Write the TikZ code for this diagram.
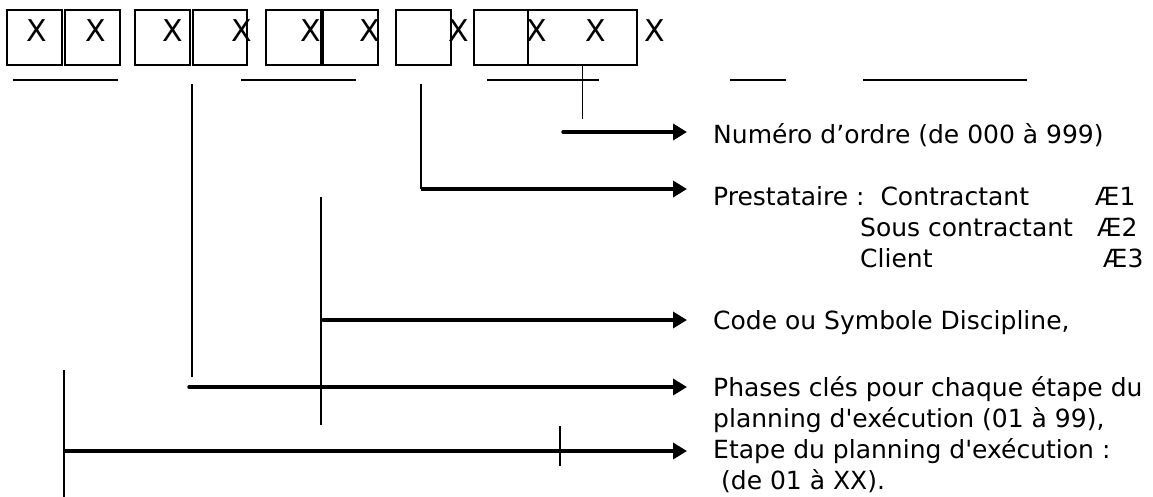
\documentclass[tikz,border=0pt]{standalone}
\usepackage{fontspec}
\setmainfont{DejaVu Sans}
\usetikzlibrary{arrows.meta}
\begin{document}
\begin{tikzpicture}[x=1pt,y=-1pt,
  cell/.style={draw,line width=1.6pt,inner sep=0pt,minimum width=55pt,minimum height=55pt},
  xmark/.style={inner sep=0pt,font=\fontsize{30}{30}\selectfont},
  rule/.style={line width=1.6pt},
  lead/.style={line width=1.6pt},
  pointer/.style={line width=3.5pt,-{Triangle[length=14pt,width=16pt]}},
  lbl/.style={anchor=west,inner sep=0pt,font=\fontsize{25}{25}\selectfont}]
\useasboundingbox (0,0) rectangle (1153,496);

% code cells
\foreach \n/\a/\b in {c1/7/62,c2/65/120,c3/135/190,c4/193/247,c5/266/321,c6/323/378,c7/396/451,c8/474/528}
  \node[cell,minimum width={\b-\a}] (\n) at ({(\a+\b)/2},37.5) {};
\node[cell,minimum width=109pt] (c9) at (582.5,37.5) {};

% characters of the code
\foreach \n/\x in {x1/37,x2/96,x3/173,x4/242,x5/311,x6/370,x7/459,x8/537,x9/596,x10/655}
  \node[xmark] (\n) at (\x,31) {X};

% underlines
\foreach \a/\b in {13/118,241/356,487/599,730/786,863/1027}
  \draw[rule] (\a,80) -- (\b,80);

% labels
\node[lbl] (ordre) at (713,135) {Numéro d’ordre (de 000 à 999)};
\node[lbl] (prest) at (713,196) {Prestataire :\ \ Contractant};
\node[lbl] (e1) at (1095,196) {Æ1};
\node[lbl] (sous) at (860,227) {Sous contractant};
\node[lbl] (e2) at (1097,227) {Æ2};
\node[lbl] (client) at (860,258) {Client};
\node[lbl] (e3) at (1103,258) {Æ3};
\node[lbl] (code) at (713,323) {Code ou Symbole Discipline,};
\node[lbl] (phase1) at (713,389) {Phases clés pour chaque étape du};
\node[lbl] (phase2) at (713,420) {planning d\textquotesingle exécution (01 à 99),};
\node[lbl] (etape1) at (713,451) {Etape du planning d\textquotesingle exécution :};
\node[lbl] (etape2) at (713,481) {\ (de 01 à XX).};

% arrow tips
\coordinate (t1) at (687,132);
\coordinate (t2) at (687,189);
\coordinate (t3) at (687,320);
\coordinate (t4) at (687,387);
\coordinate (t5) at (687,451);

% order number
\draw[lead] (c9.south) -- ++(0,53);
\draw[pointer,line cap=round] (563,132) -- (t1);

% contractor
\coordinate (p0) at (421,84);
\draw[lead] (p0) -- (421,189);
\draw[pointer] (421,189) -- (t2);

% discipline
\draw[lead] (321,197) -- (321,425);
\draw[pointer,line cap=round] (323,320) -- (t3);

% key phases
\draw[lead] (192,84) -- (192,377);
\draw[pointer,line cap=round] (189,387) -- (t4);

% schedule step
\draw[lead] (64,370) -- (64,497);
\draw[lead] (560,426) -- (560,466);
\draw[pointer] (64,451) -- (t5);
\end{tikzpicture}
\end{document}
